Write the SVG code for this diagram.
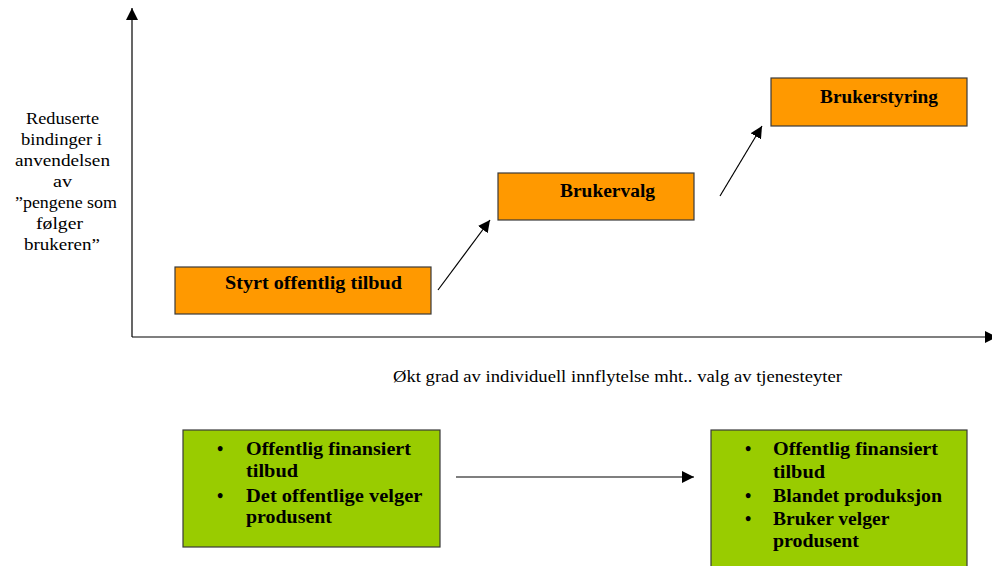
<svg xmlns="http://www.w3.org/2000/svg" width="992" height="566" viewBox="0 0 992 566">
<defs>
<style>
.box{fill:#FF9900;stroke:#3a3a3a;stroke-width:1.2}
.gbox{fill:#99CC00;stroke:#3a3a3a;stroke-width:1.2}
.t{font-family:"Liberation Serif","Times New Roman",serif;fill:#000}
.b{font-weight:bold;font-size:18px}
.r{font-size:17px}
.ln{stroke:#000;stroke-width:1.2;fill:none}
</style>
<marker id="ah" viewBox="0 0 10 10" refX="10" refY="5" markerWidth="12" markerHeight="12" markerUnits="userSpaceOnUse" orient="auto">
<path d="M0,0 L10,5 L0,10 z" fill="#000"/>
</marker>
</defs>
<g id="connectors">
<line class="ln" x1="132" y1="337" x2="132" y2="8" marker-end="url(#ah)"/>
<line class="ln" x1="132" y1="337" x2="997" y2="337" marker-end="url(#ah)"/>
<line class="ln" x1="438" y1="290" x2="490" y2="220" marker-end="url(#ah)"/>
<line class="ln" x1="720" y1="196" x2="762" y2="126" marker-end="url(#ah)"/>
<line class="ln" x1="456" y1="477" x2="694" y2="477" stroke="#444" marker-end="url(#ah)"/>
</g>
<g id="ylabel">
<text class="t r">
<tspan x="26" y="124" textLength="73" lengthAdjust="spacingAndGlyphs">Reduserte</tspan>
<tspan x="21" y="145" textLength="81" lengthAdjust="spacingAndGlyphs">bindinger i</tspan>
<tspan x="15" y="166" textLength="95" lengthAdjust="spacingAndGlyphs">anvendelsen</tspan>
<tspan x="53" y="187" textLength="19" lengthAdjust="spacingAndGlyphs">av</tspan>
<tspan x="15" y="208" textLength="102" lengthAdjust="spacingAndGlyphs">”pengene som</tspan>
<tspan x="36" y="229" textLength="47" lengthAdjust="spacingAndGlyphs">følger</tspan>
<tspan x="24" y="250" textLength="76" lengthAdjust="spacingAndGlyphs">brukeren”</tspan>
</text>
</g>
<g id="xlabel">
<text class="t r" x="393" y="382" textLength="449" lengthAdjust="spacingAndGlyphs">Økt grad av individuell innflytelse mht.. valg av tjenesteyter</text>
</g>
<g id="n1">
<rect class="box" x="175" y="267" width="256" height="47"/>
<text class="t b" x="225" y="289" textLength="177" lengthAdjust="spacingAndGlyphs">Styrt offentlig tilbud</text>
</g>
<g id="n2">
<rect class="box" x="498" y="173" width="196" height="47"/>
<text class="t b" x="560" y="197" textLength="95" lengthAdjust="spacingAndGlyphs">Brukervalg</text>
</g>
<g id="n3">
<rect class="box" x="771" y="78" width="196" height="48"/>
<text class="t b" x="820" y="103" textLength="118" lengthAdjust="spacingAndGlyphs">Brukerstyring</text>
</g>
<g id="g1">
<rect class="gbox" x="183" y="430" width="257" height="117"/>
<text class="t b">
<tspan x="217" y="455">•</tspan><tspan x="246" y="455" textLength="165" lengthAdjust="spacingAndGlyphs">Offentlig finansiert</tspan>
<tspan x="246" y="477" textLength="52" lengthAdjust="spacingAndGlyphs">tilbud</tspan>
<tspan x="217" y="502">•</tspan><tspan x="246" y="502" textLength="176" lengthAdjust="spacingAndGlyphs">Det offentlige velger</tspan>
<tspan x="246" y="523" textLength="86" lengthAdjust="spacingAndGlyphs">produsent</tspan>
</text>
</g>
<g id="g2">
<rect class="gbox" x="711" y="430" width="256" height="140"/>
<text class="t b">
<tspan x="745" y="455">•</tspan><tspan x="773" y="455" textLength="165" lengthAdjust="spacingAndGlyphs">Offentlig finansiert</tspan>
<tspan x="773" y="478" textLength="52" lengthAdjust="spacingAndGlyphs">tilbud</tspan>
<tspan x="745" y="502">•</tspan><tspan x="773" y="502" textLength="169" lengthAdjust="spacingAndGlyphs">Blandet produksjon</tspan>
<tspan x="745" y="525">•</tspan><tspan x="773" y="525" textLength="116" lengthAdjust="spacingAndGlyphs">Bruker velger</tspan>
<tspan x="773" y="547" textLength="86" lengthAdjust="spacingAndGlyphs">produsent</tspan>
</text>
</g>
</svg>
